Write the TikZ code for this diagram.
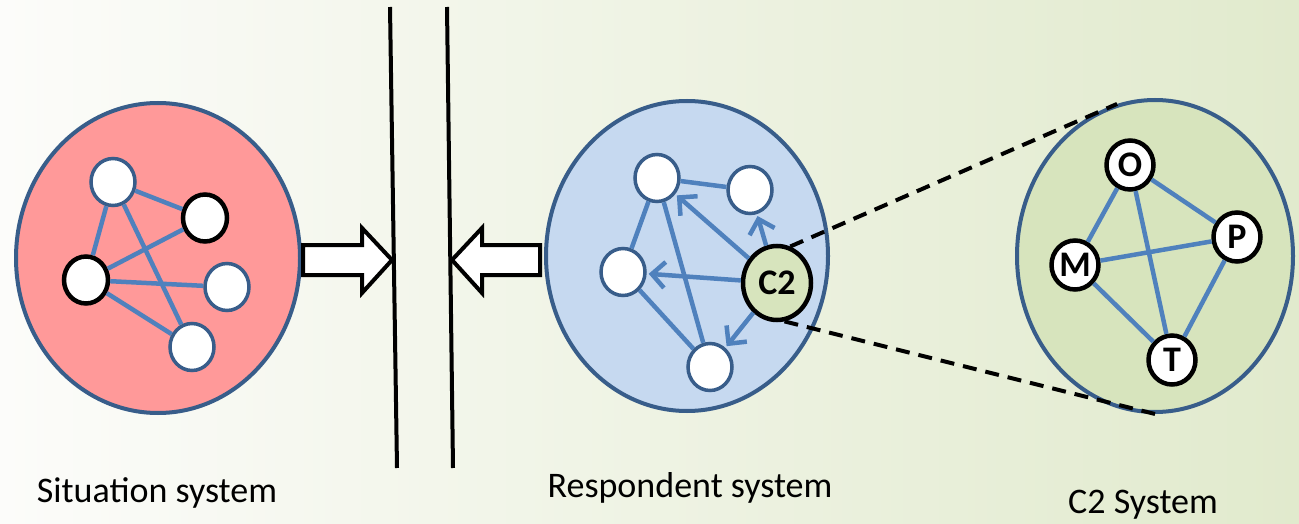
\documentclass[tikz,border=0pt]{standalone}
\usepackage{fontspec}
\setmainfont{Carlito}
\usepackage{tikz}
\usetikzlibrary{arrows.meta, shapes.geometric}

\definecolor{edgeblue}{RGB}{79,129,189}
\definecolor{rimblue}{RGB}{56,93,138}
\definecolor{sitred}{RGB}{255,153,153}
\definecolor{respblue}{RGB}{198,217,240}
\definecolor{ctwogreen}{RGB}{215,228,189}
\definecolor{bgleft}{RGB}{252,252,250}
\definecolor{bgmid}{RGB}{243,246,234}
\definecolor{bgright}{RGB}{225,234,205}

\tikzset{
  sysbox/.style={ellipse, draw=rimblue, line width=4pt, inner sep=0pt},
  unit/.style={ellipse, draw=rimblue, line width=3.5pt, fill=white, inner sep=0pt,
    minimum width=44pt, minimum height=47pt},
  keyunit/.style={unit, draw=black, line width=4.5pt},
  letter/.style={ellipse, draw=black, line width=4.5pt, fill=white, inner sep=0pt,
    minimum width=47pt, minimum height=49pt, font=\bfseries\fontsize{36}{36}\selectfont},
  link/.style={edgeblue, line width=4.5pt},
  pull/.style={link, -{Straight Barb[length=13pt,width=26pt]}, shorten >=2pt},
  wall/.style={line width=4pt},
  blockarrow/.style={draw=black, fill=white, line width=4pt, line join=miter},
  zoomline/.style={line width=4pt, dash pattern=on 14pt off 9pt},
  caption/.style={anchor=base, font=\fontsize{36}{42}\selectfont}
}

\begin{document}
\begin{tikzpicture}[x=1pt, y=-1pt]
    % background
    \useasboundingbox (0,0) rectangle (1299,524);
    \shade[left color=bgleft, middle color=bgmid, right color=bgright] (0,0) rectangle (1299,524);

    % situation system
    \node[sysbox, fill=sitred, minimum width=284pt, minimum height=310pt] (sitsys) at (158,258) {};
    \node[unit] (s1) at (113,182) {};
    \node[keyunit] (s2) at (205,218) {};
    \node[keyunit] (s3) at (86,280) {};
    \node[unit] (s4) at (227,287) {};
    \node[unit] (s5) at (192,347) {};
    \foreach \a/\b in {s1/s2, s1/s3, s1/s5, s3/s2, s3/s4, s3/s5}
        \draw[link] (\a) -- (\b);

    % respondent system
    \node[sysbox, fill=respblue, minimum width=282pt, minimum height=310pt] (respsys) at (687,256) {};
    \node[unit] (r1) at (657,178) {};
    \node[unit] (r2) at (750,190) {};
    \node[unit] (r3) at (623,272) {};
    \node[unit] (r4) at (710,367) {};
    \node[ellipse, draw=black, line width=4.5pt, fill=ctwogreen, inner sep=0pt,
          minimum width=68pt, minimum height=74pt,
          font=\bfseries\fontsize{36}{36}\selectfont] (ctwo) at (777,283) {C2};
    \foreach \a/\b in {r1/r2, r1/r3, r1/r4, r3/r4}
        \draw[link] (\a) -- (\b);
    \foreach \t in {r1, r2, r3, r4}
        \draw[pull] (ctwo) -- (\t);

    % C2 system
    \node[sysbox, fill=ctwogreen, minimum width=276pt, minimum height=312pt] (ctwosys) at (1155,256) {};
    \node[letter] (o) at (1130,165) {O};
    \node[letter] (p) at (1237,237) {P};
    \node[letter] (m) at (1075,265) {M};
    \node[letter] (t) at (1172,360) {T};
    \foreach \a/\b in {o/m, o/t, o/p, m/p, m/t, p/t}
        \draw[link] (\a) -- (\b);

    % zoom lines
    \draw[zoomline] (ctwo.70) -- (ctwosys.104);
    \draw[zoomline] (ctwo.281) -- (ctwosys.270);

    % walls
    \coordinate (wa1) at (390,7);
    \coordinate (wa2) at (397,468);
    \coordinate (wb1) at (447,7);
    \coordinate (wb2) at (453,468);
    \draw[wall] (wa1) -- (wa2);
    \draw[wall] (wb1) -- (wb2);

    % block arrows towards the walls
    \draw[blockarrow] (303,245) -- (362,245) -- (362,228) -- (392,260)
        -- (362,293) -- (362,275) -- (303,275) -- cycle;
    \draw[blockarrow] (540,245) -- (482,245) -- (482,228) -- (452,260)
        -- (482,293) -- (482,275) -- (540,275) -- cycle;

    % captions
    \node[caption] (sitlabel) at (157,502) {Situation system};
    \node[caption] (resplabel) at (690,497) {Respondent system};
    \node[caption] (ctwolabel) at (1143,513) {C2 System};
\end{tikzpicture}
\end{document}
